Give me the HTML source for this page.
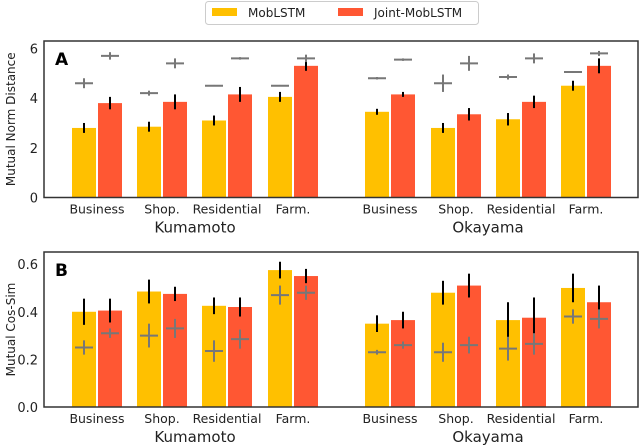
<!DOCTYPE html>
<html><head><meta charset="utf-8"><style>
body{margin:0;background:#fff;}
svg{display:block;font-family:"DejaVu Sans","Liberation Sans",sans-serif;}
</style></head><body>
<svg id="chart" width="640" height="445" viewBox="0 0 640 445" xmlns="http://www.w3.org/2000/svg">
  <g>
    <rect x="205.5" y="1.5" width="273" height="23" rx="3" fill="#fff" stroke="#ccc"/>
    <rect x="212" y="8" width="25" height="8" fill="#FFC000"/>
    <text x="248" y="17" font-size="12" fill="#222">MobLSTM</text>
    <rect x="338" y="8" width="25" height="8" fill="#FF5733"/>
    <text x="374" y="17" font-size="12" fill="#222">Joint-MobLSTM</text>
  </g>
  <g id="panelA"></g>
  <g id="panelB"></g>
</svg>
<script>
const categories = ["Business","Shop.","Residential","Farm."];
const regions = ["Kumamoto","Okayama"];
// Panel A: Mutual Norm Distance (Kumamoto x4, Okayama x4)
const aMob = [2.8,2.85,3.1,4.05, 3.45,2.8,3.15,4.5];
const aMobErr = [0.2,0.2,0.2,0.2, 0.12,0.2,0.25,0.2];
const aJoint = [3.8,3.85,4.15,5.3, 4.15,3.35,3.85,5.3];
const aJointErr = [0.25,0.3,0.3,0.2, 0.1,0.25,0.25,0.3];
const aMobPlus = [4.6,4.2,4.5,4.5, 4.8,4.6,4.85,5.05];
const aMobPlusErr = [0.2,0.1,0.03,0.03, 0.05,0.35,0.1,0.03];
const aJointPlus = [5.7,5.4,5.6,5.6, 5.55,5.4,5.6,5.8];
const aJointPlusErr = [0.15,0.2,0.05,0.15, 0.05,0.3,0.2,0.1];
const aTicks = [0,2,4,6];
// Panel B: Mutual Cos-Sim
const bMob = [0.40,0.485,0.425,0.575, 0.35,0.48,0.365,0.50];
const bMobErr = [0.055,0.05,0.035,0.035, 0.035,0.05,0.075,0.06];
const bJoint = [0.405,0.475,0.42,0.55, 0.365,0.51,0.375,0.44];
const bJointErr = [0.05,0.03,0.04,0.03, 0.035,0.05,0.085,0.07];
const bMobPlus = [0.25,0.30,0.235,0.47, 0.23,0.23,0.245,0.38];
const bMobPlusErr = [0.03,0.05,0.045,0.04, 0.01,0.04,0.05,0.03];
const bJointPlus = [0.31,0.33,0.285,0.48, 0.26,0.26,0.265,0.37];
const bJointPlusErr = [0.02,0.04,0.04,0.03, 0.015,0.035,0.045,0.04];
const bTicks = [0.0,0.2,0.4,0.6];

const NS="http://www.w3.org/2000/svg";
function mk(parent,tag,attrs,text){const e=document.createElementNS(NS,tag);for(const k in attrs)e.setAttribute(k,attrs[k]);if(text!==undefined)e.textContent=text;parent.appendChild(e);return e;}
const groupX=[72,137,202,268,365,431,496,561];
const BW=24;

function drawPanel(g,top,bottom,ymin,ymax,ticks,tickFmt,ylabel,letter,mob,mobE,joint,jointE,mp,mpE,jp,jpE){
  const left=44,right=638;
  const y=v=>bottom-(v-ymin)/(ymax-ymin)*(bottom-top);
  function bars(vals,errs,off,color,name){
    vals.forEach((v,i)=>{
      const x=groupX[i]+off;
      const r=mk(g,'rect',{x:x,y:y(v),width:BW,height:y(ymin)-y(v),fill:color});
      
      
      const l=mk(g,'line',{x1:x+BW/2,x2:x+BW/2,y1:y(v-errs[i]),y2:y(v+errs[i]),stroke:'#000','stroke-width':2});
      
      
    });
  }
  function pluses(vals,errs,off,name){
    vals.forEach((v,i)=>{
      const cx=groupX[i]+off+BW/2;
      const p=mk(g,'g',{stroke:'#777','stroke-width':2});
      
      
      mk(p,'line',{x1:cx-9,x2:cx+9,y1:y(v),y2:y(v)});
      mk(p,'line',{x1:cx,x2:cx,y1:y(v-errs[i]),y2:y(v+errs[i])});
    });
  }
  bars(mob,mobE,0,'#FFC000','moblstm');
  bars(joint,jointE,26,'#FF5733','joint-moblstm');
  pluses(mp,mpE,0,'moblstm-baseline');
  pluses(jp,jpE,26,'joint-baseline');
  const f=mk(g,'rect',{x:left,y:top,width:right-left,height:bottom-top,fill:'none',stroke:'#333','stroke-width':1.5});
  
  
  ticks.forEach(t=>{
    const tl=mk(g,'text',{x:left-6,y:y(t)+5,'text-anchor':'end','font-size':13,fill:'#222'},tickFmt(t));
    
    
  });
  const yl=mk(g,'text',{transform:`translate(15,${(top+bottom)/2}) rotate(-90)`,'text-anchor':'middle','font-size':12,fill:'#222'},ylabel);
  
  
  const lt=mk(g,'text',{x:55,y:top+24,'font-size':17,'font-weight':'bold',fill:'#000'},letter);
  
  
  groupX.forEach((gx,i)=>{
    const t=mk(g,'text',{x:gx+BW+1,y:bottom+16,'text-anchor':'middle','font-size':12.5,fill:'#222'},categories[i%4]);
    
    
  });
  regions.forEach((r,k)=>{
    const cx=(groupX[k*4]+groupX[k*4+3]+2*BW+2)/2;
    const t=mk(g,'text',{x:cx,y:bottom+35,'text-anchor':'middle','font-size':15,fill:'#222'},r);
    
    
  });
}
drawPanel(document.getElementById('panelA'),41,197.5,0,6.3,aTicks,t=>String(t),'Mutual Norm Distance','A',aMob,aMobErr,aJoint,aJointErr,aMobPlus,aMobPlusErr,aJointPlus,aJointPlusErr);
drawPanel(document.getElementById('panelB'),252,407,0,0.651,bTicks,t=>t.toFixed(1),'Mutual Cos-Sim','B',bMob,bMobErr,bJoint,bJointErr,bMobPlus,bMobPlusErr,bJointPlus,bJointPlusErr);
</script>
</body></html>
